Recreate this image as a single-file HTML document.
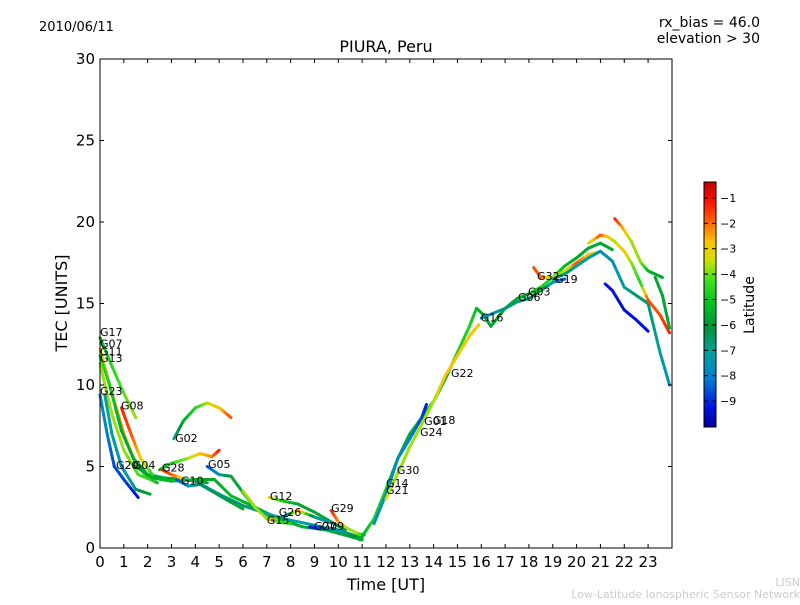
<!DOCTYPE html>
<html><head><meta charset="utf-8"><style>
body{margin:0;background:#fff;}
svg text{font-family:"DejaVu Sans","Liberation Sans",sans-serif;}
</style></head><body>
<svg id="chart" width="800" height="600" xmlns="http://www.w3.org/2000/svg">
<defs>
<linearGradient id="cbgrad" x1="0" y1="1" x2="0" y2="0">
<stop offset="0" stop-color="#0000a0"/><stop offset="0.08" stop-color="#0010e0"/>
<stop offset="0.2" stop-color="#0080d0"/><stop offset="0.3" stop-color="#00a0a0"/>
<stop offset="0.4" stop-color="#009040"/><stop offset="0.5" stop-color="#00c020"/>
<stop offset="0.6" stop-color="#40e020"/><stop offset="0.68" stop-color="#d0e000"/>
<stop offset="0.76" stop-color="#ffc000"/><stop offset="0.84" stop-color="#ff6000"/>
<stop offset="0.92" stop-color="#ff1000"/><stop offset="1" stop-color="#c00000"/>
</linearGradient>
</defs>
<text x="39" y="31" font-size="13">2010/06/11</text>
<text x="760" y="27" font-size="14" text-anchor="end">rx_bias = 46.0</text>
<text x="760" y="43" font-size="14" text-anchor="end">elevation &gt; 30</text>
<text x="386" y="52" font-size="16" text-anchor="middle">PIURA, Peru</text>
<g id="marks"></g>
<rect x="100" y="59" width="572" height="489" fill="none" stroke="#000" stroke-width="1"/>
<g id="axes"></g>
<text x="386" y="590" font-size="16" text-anchor="middle">Time [UT]</text>
<text transform="translate(67,303) rotate(-90)" font-size="16" text-anchor="middle">TEC [UNITS]</text>
<rect x="704" y="182" width="12" height="245" fill="url(#cbgrad)" stroke="#000" stroke-width="1"/>
<g id="cbticks"></g>
<text transform="translate(754,305) rotate(-90)" font-size="14" text-anchor="middle">Latitude</text>
<text x="800" y="586" font-size="11" fill="#ccc" text-anchor="end">LISN</text>
<text x="800" y="598" font-size="11" fill="#ccc" text-anchor="end">Low-Latitude Ionospheric Sensor Network</text>
</svg>
<script>
const xTicks=[0,1,2,3,4,5,6,7,8,9,10,11,12,13,14,15,16,17,18,19,20,21,22,23];
const yTicks=[0,5,10,15,20,25,30];
const cbTicks=[-1,-2,-3,-4,-5,-6,-7,-8,-9];
const trackT=[
[0,0.4,0.9,1.5],
[0,0.5,1.0,1.5,2.0,2.4],
[0,0.4,0.9,1.4,2.0,2.7,3.5,4.5],
[0,0.5,1.0,1.6,2.3],
[0,0.3,0.6,1.0,1.6],
[0.2,0.5,0.9,1.5,2.1],
[0.9,1.3,1.7,2.2],
[3.1,3.5,4.0,4.5,5.0,5.5],
[2.5,3.0,3.7,4.2,4.7,5.0],
[1.5,2.2,3,4,4.8,5.5,6.5,7.5,8.5,9.5,10.5,11],
[2.6,3,3.4],
[3.2,3.7,4.2,4.8,5.5,6.0],
[4.5,5,5.5,6,6.5,7,7.5],
[4.0,5,6,7,8,9,10,11],
[6,6.5,7,7.5,8],
[7.1,7.6,8.3,9,9.7,10.3],
[7.2,7.8,8.3,9,9.8],
[8.8,9.3,9.8,10.4,11],
[9.7,10,10.4,10.8,11.1],
[10.9,11.5,12,12.5,13,13.5,14,14.5,15,15.5,15.8,16.1,16.4,17,17.5,18,18.5,19,19.5,20,20.5,21,21.5],
[11.5,12,12.5,13,13.5,13.7],
[12,12.5,13,13.5,14,14.5,15,15.5,15.9],
[16,16.5,17,17.5,18,18.5,19,19.5],
[18.2,18.5,19,19.5,20,20.5,21],
[19,19.5,20,20.5,21,21.5,22,22.5,23,23.5,23.9],
[21.2,21.5,22,22.5,23],
[20.5,21,21.3,21.6,22,22.3,22.7,23,23.5,23.9],
[21.6,21.9,22.3,22.7,23,23.3,23.6],
[23.3,23.6,23.9]
];
const trackTec=[
[12.9,11.5,9.8,8.0],
[12.2,9.5,7.0,5.2,4.3,4.0],
[11.8,10,7.2,5.5,4.5,4.3,4.2,4.0],
[11.3,8.2,6.0,4.5,4.1],
[9.4,7.0,5.0,4.2,3.1],
[9.4,7,5,3.6,3.3],
[8.6,7,5.5,4.5],
[6.7,7.8,8.6,8.9,8.6,8.0],
[4.8,5.2,5.5,5.8,5.6,6.0],
[5,4.3,4.1,4.2,4.2,3.2,2.5,1.8,1.3,1.1,0.7,0.5],
[4.8,4.5,4.3],
[4.2,3.8,3.9,3.4,2.8,2.4],
[5.0,4.5,4.4,3.4,2.5,2.0,1.7],
[4.1,3.3,2.6,2.1,1.7,1.4,1,0.6],
[3.5,2.5,1.8,1.6,1.5],
[3.1,2.9,2.7,2.2,1.6,1.1],
[1.7,2.0,2.3,1.9,1.5],
[1.3,1.2,1.2,0.9,0.6],
[2.3,1.6,1.2,0.9,0.8],
[0.5,1.8,3.6,5.5,7,8,9,10.4,12.0,13.6,14.7,14.3,13.6,14.7,15.3,15.6,16,16.6,17.3,17.8,18.4,18.7,18.3],
[1.5,3.3,5.5,6.7,8,8.8],
[3,4.6,6.2,7.6,9,10.6,11.8,13,13.7],
[14.1,14.4,14.7,15.1,15.3,15.8,16.3,16.5],
[17.2,16.6,16.6,17.0,17.5,18,18.2],
[16.5,16.8,17.3,17.8,18.2,17.6,16,15.5,15,12,10],
[16.2,15.8,14.6,14.0,13.3],
[18.7,19.2,19.1,18.8,18.2,17.5,16.2,15.2,14.3,13.2],
[20.2,19.7,18.8,17.5,17.0,16.8,16.6],
[16.6,15.5,13.5]
];
const trackLat=[
[-6,-5,-4.5,-4],
[-3,-2.5,-2.5,-4,-5,-6],
[-5,-5,-6,-6,-6,-6,-6,-6],
[-4,-4,-4,-4.5,-5],
[-8,-8.5,-9,-9,-9.5],
[-7.5,-7.5,-8,-7,-6],
[-1.5,-2,-3,-5],
[-7.5,-6,-5,-4,-3,-2],
[-6,-5,-4,-3,-2.5,-1.5],
[-6,-6,-5.5,-6,-6,-5.5,-6,-6,-6,-6,-6,-6],
[-1.5,-2,-3],
[-9,-8,-7,-6.5,-6,-6],
[-9,-8,-6,-6,-6,-5,-5],
[-7,-7,-7,-7.5,-7.5,-7.5,-7,-6],
[-4,-4,-4,-4.5,-5],
[-3,-5,-6,-6,-6,-7],
[-1.5,-9,-2,-7,-8],
[-9.5,-9,-8,-7,-6],
[-1.5,-2.5,-4,-4,-5],
[-6,-5,-5,-6,-6,-5,-6,-6,-5,-5,-5.5,-6,-6,-6,-6,-6,-5,-5,-5.5,-6,-6,-6,-6],
[-8,-8,-8,-8.5,-9,-9.5],
[-3.5,-4,-4,-4,-4,-3,-3,-3,-3],
[-8,-8,-7,-7,-7,-6,-8,-9],
[-2,-2,-4,-4,-2,-3,-4],
[-7,-7,-7.5,-7.5,-8,-8,-7.5,-7,-7,-7.5,-8],
[-9.5,-9.5,-9.5,-9.5,-9.5],
[-4,-2,-3,-4,-3,-4,-5,-2,-2,-1.5],
[-1.5,-2.5,-4,-4,-5.5,-6,-6],
[-6,-6,-6]
];
const labelNames=["G17","G07","G11","G13","G23","G08","G02","G20","G04","G28","G05","G10","G12","G26","G15","G27","G09","G29","G22","G16","G06","G03","G32","G19","G01","G18","G24","G30","G14","G21"];
const labelT=[0,0,0,0,0,0.88,3.15,0.67,1.38,2.6,4.53,3.4,7.13,7.5,7.0,8.98,9.3,9.7,14.73,15.98,17.54,17.96,18.34,19.1,13.6,13.97,13.43,12.46,12.0,12.0];
const labelTec=[13.0,12.3,11.8,11.4,9.4,8.5,6.5,4.85,4.85,4.7,4.9,3.9,2.95,1.96,1.47,1.1,1.1,2.2,10.5,13.9,15.15,15.5,16.45,16.25,7.55,7.6,6.87,4.54,3.74,3.3];

const X0=100,XS=23.83,Y0=548,YS=16.3;
function xs(t){return X0+t*XS;}
function ys(v){return Y0-v*YS;}
function cbY(l){return 426.5+(l+10)*(-25.4);}
const stops=[[-10,[0,0,160]],[-9.5,[0,16,224]],[-8.5,[0,128,208]],[-7.5,[0,160,160]],[-6.5,[0,144,64]],[-5.5,[0,192,32]],[-4.5,[64,224,32]],[-3.7,[208,224,0]],[-2.9,[255,192,0]],[-2.2,[255,96,0]],[-1.4,[255,16,0]],[-0.5,[192,0,0]]];
function lcol(l){
  if(l<=stops[0][0])return 'rgb('+stops[0][1]+')';
  for(let i=1;i<stops.length;i++){
    if(l<=stops[i][0]){const a=stops[i-1],b=stops[i];const f=(l-a[0])/(b[0]-a[0]);
      const c=a[1].map((v,k)=>Math.round(v+(b[1][k]-v)*f));return 'rgb('+c.join(',')+')';}
  }
  return 'rgb('+stops[stops.length-1][1]+')';
}
const NS='http://www.w3.org/2000/svg';
const marks=document.getElementById('marks');
trackT.forEach((ts,i)=>{
  const g=document.createElementNS(NS,'g');
  
  
  for(let j=0;j<ts.length-1;j++){
    const n=4;
    for(let k=0;k<n;k++){
      const f0=k/n,f1=(k+1)/n;
      const t0=ts[j]+(ts[j+1]-ts[j])*f0,t1=ts[j]+(ts[j+1]-ts[j])*f1;
      const v0=trackTec[i][j]+(trackTec[i][j+1]-trackTec[i][j])*f0,v1=trackTec[i][j]+(trackTec[i][j+1]-trackTec[i][j])*f1;
      const la=trackLat[i][j]+(trackLat[i][j+1]-trackLat[i][j])*(f0+f1)/2;
      const ln=document.createElementNS(NS,'line');
      ln.setAttribute('x1',xs(t0));ln.setAttribute('y1',ys(v0));
      ln.setAttribute('x2',xs(t1));ln.setAttribute('y2',ys(v1));
      ln.setAttribute('stroke',lcol(la));ln.setAttribute('stroke-width','3');ln.setAttribute('stroke-linecap','round');
      g.appendChild(ln);
    }
  }
  marks.appendChild(g);
});
labelNames.forEach((n,i)=>{
  const t=document.createElementNS(NS,'text');
  t.setAttribute('x',xs(labelT[i]));t.setAttribute('y',ys(labelTec[i]));
  t.setAttribute('font-size','11');t.textContent=n;
  
  
  marks.appendChild(t);
});
const axes=document.getElementById('axes');
xTicks.forEach(v=>{
  const x=xs(v);
  axes.insertAdjacentHTML('beforeend',`<line x1="${x}" y1="548" x2="${x}" y2="544" stroke="#000"/><line x1="${x}" y1="59" x2="${x}" y2="63" stroke="#000"/>`);
  const t=document.createElementNS(NS,'text');
  t.setAttribute('x',x);t.setAttribute('y',567);t.setAttribute('font-size','15');t.setAttribute('text-anchor','middle');
  t.textContent=v;
  
  
  axes.appendChild(t);
});
yTicks.forEach(v=>{
  const y=ys(v);
  axes.insertAdjacentHTML('beforeend',`<line x1="100" y1="${y}" x2="104" y2="${y}" stroke="#000"/><line x1="672" y1="${y}" x2="668" y2="${y}" stroke="#000"/>`);
  const t=document.createElementNS(NS,'text');
  t.setAttribute('x',95);t.setAttribute('y',y+5);t.setAttribute('font-size','15');t.setAttribute('text-anchor','end');
  t.textContent=v;
  
  
  axes.appendChild(t);
});
const cbt=document.getElementById('cbticks');
cbTicks.forEach(v=>{
  const y=cbY(v);
  cbt.insertAdjacentHTML('beforeend',`<line x1="704" y1="${y}" x2="708" y2="${y}" stroke="#000"/><line x1="716" y1="${y}" x2="712" y2="${y}" stroke="#000"/>`);
  const t=document.createElementNS(NS,'text');
  t.setAttribute('x',720);t.setAttribute('y',y+4);t.setAttribute('font-size','11');
  t.textContent='\u2212'+Math.abs(v);
  
  
  cbt.appendChild(t);
});
</script>
</body></html>
